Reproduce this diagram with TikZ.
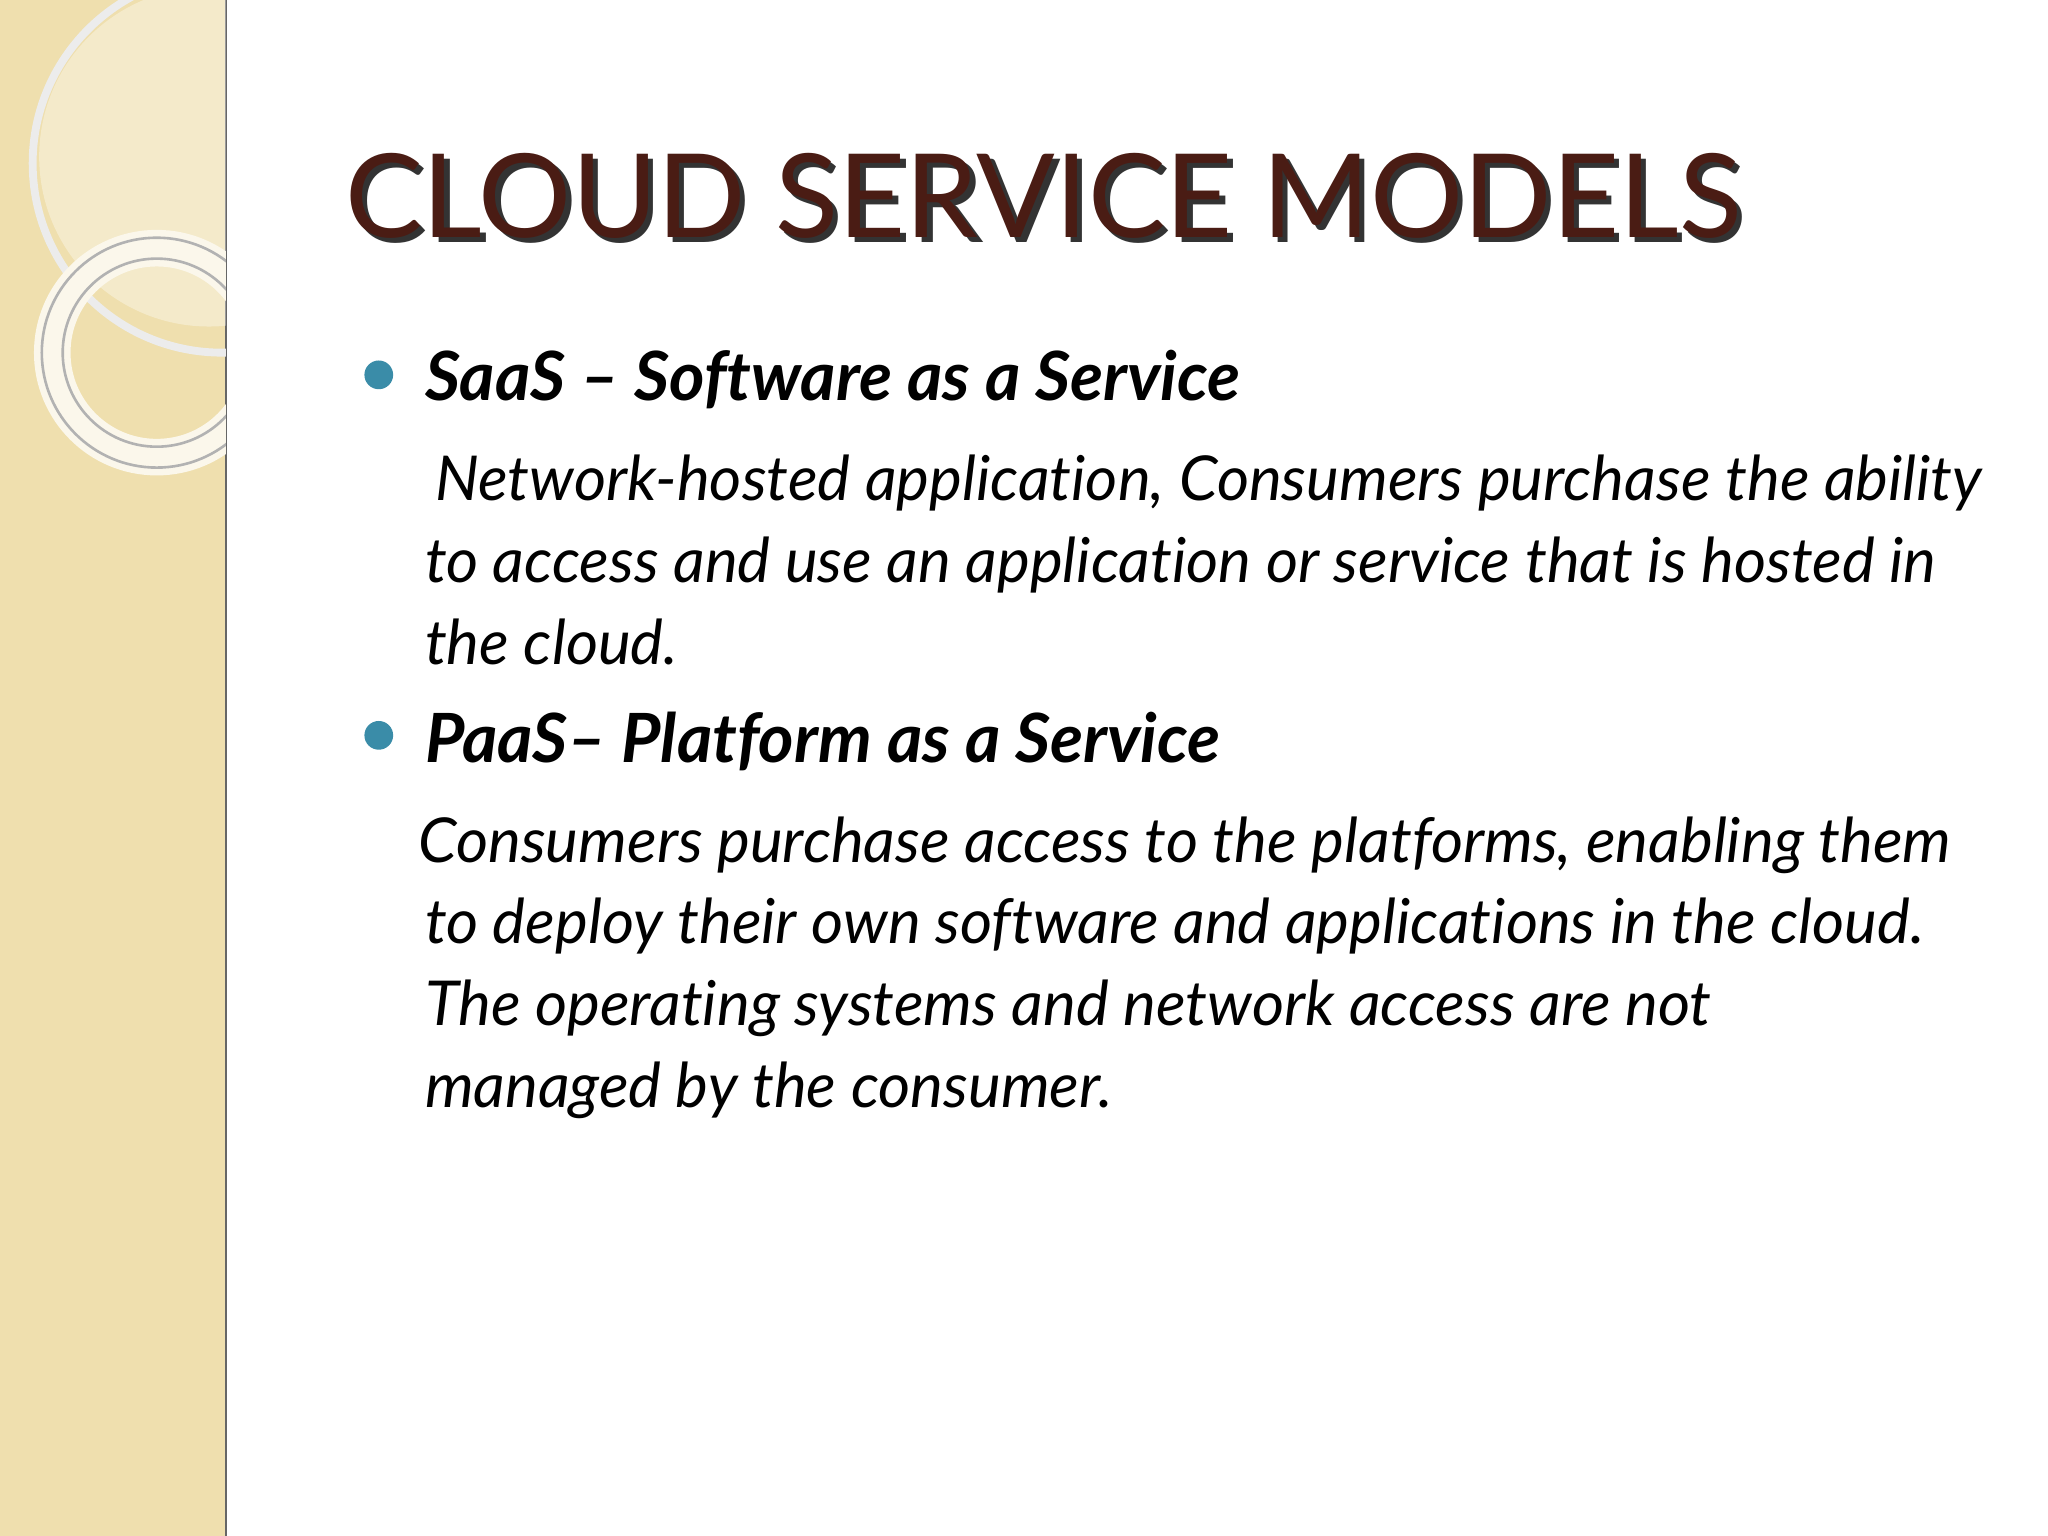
\documentclass[tikz,border=0pt]{standalone}
\usepackage{fontspec}
\setmainfont{Lato}[Ligatures=CommonOff]
\definecolor{strip}{HTML}{EFDFAE}
\definecolor{titlec}{HTML}{4A1C14}
\definecolor{bul}{HTML}{3A8CA8}
\begin{document}
\begin{tikzpicture}[x=0.5pt,y=-0.5pt,
  body/.style={anchor=base west,inner sep=0,font=\fontsize{23.7}{29}\selectfont\itshape},
  head/.style={anchor=base west,inner sep=0,font=\fontsize{26}{31}\selectfont\bfseries\itshape}]
\useasboundingbox (0,0) rectangle (1568,1176);
\fill[white] (0,0) rectangle (1568,1176);
\fill[strip] (0,0) rectangle (173,1176);
\draw[black!60,line width=1pt] (173,0) -- (173,1176);
\begin{scope}
\clip (0,0) rectangle (173,1176);
\fill[white,opacity=0.35] (160,120) circle (130);
\draw[white!85!gray,line width=3pt] (170,125) circle (145);
\draw[white!75!strip,line width=14pt] (120,270) circle (80);
\draw[gray!60,line width=1pt] (120,270) circle (88);
\draw[gray!60,line width=1pt] (120,270) circle (72);
\end{scope}
\node[anchor=base west,inner sep=0,font=\fontsize{44.5}{50}\selectfont,text=black!80] (ts) at (268,186) {CLOUD SERVICE MODELS};
\node[anchor=base west,inner sep=0,font=\fontsize{44.5}{50}\selectfont,text=titlec] (t) at (264,182) {CLOUD SERVICE MODELS};
\fill[bul] (290,287) circle (11) coordinate (b1);
\fill[bul] (290,563) circle (11) coordinate (b2);
\node[head] (h1) at (325,307) {SaaS – Software as a Service};
\node[body] (l1) at (333,383) {Network-hosted application, Consumers purchase the ability};
\node[body] (l2) at (325,446) {to access and use an application or service that is hosted in};
\node[body] (l3) at (325,509) {the cloud.};
\node[head] (h2) at (325,584) {PaaS– Platform as a Service};
\node[body] (m1) at (320,660) {Consumers purchase access to the platforms, enabling them};
\node[body] (m2) at (325,722) {to deploy their own software and applications in the cloud.};
\node[body] (m3) at (325,785) {The operating systems and network access are not};
\node[body] (m4) at (325,848) {managed by the consumer.};
\end{tikzpicture}
\end{document}
